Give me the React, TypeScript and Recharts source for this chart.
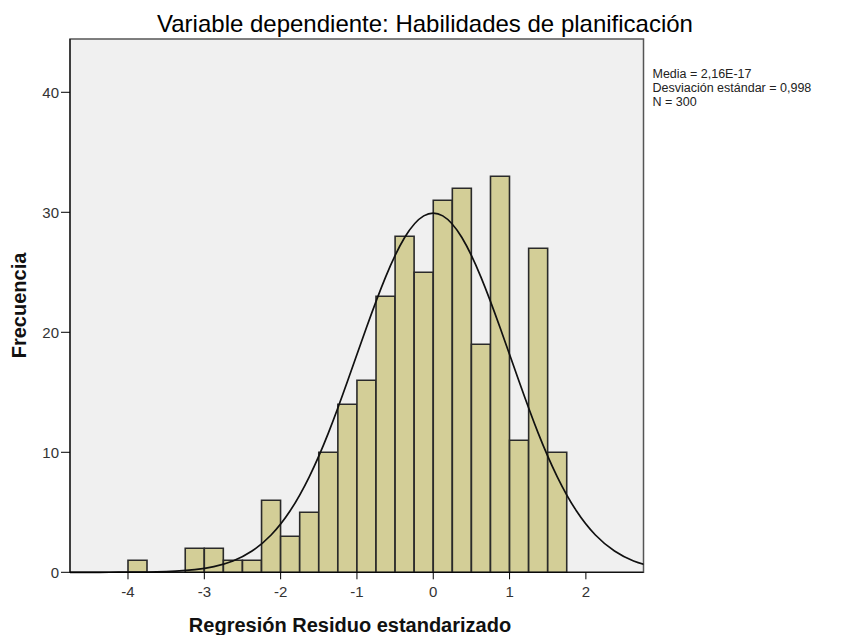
import {
  ComposedChart,
  Bar,
  Line,
  XAxis,
  YAxis,
  CartesianGrid,
  ReferenceArea,
} from "recharts";

// bin centres (bin width 0.25)
const binCenters = [
  -4.875, -4.625, -4.375, -4.125, -3.875, -3.625, -3.375, -3.125, -2.875, -2.625,
  -2.375, -2.125, -1.875, -1.625, -1.375, -1.125, -0.875, -0.625, -0.375, -0.125,
  0.125, 0.375, 0.625, 0.875, 1.125, 1.375, 1.625, 1.875, 2.125, 2.375, 2.625, 2.875,
];

const frequencies = [
  0, 0, 0, 0, 1, 0, 0, 2, 2, 1,
  1, 6, 3, 5, 10, 14, 16, 23, 28, 25,
  31, 32, 19, 33, 11, 27, 10, 0, 0, 0, 0, 0,
];

// height of the normal curve at each bin centre
const normalCurve = [
  0, 0, 0, 0.01, 0.02, 0.04, 0.1, 0.22, 0.47, 0.94,
  1.77, 3.11, 5.13, 7.96, 11.6, 15.9, 20.4, 24.6, 27.9, 29.7,
  29.7, 27.9, 24.6, 20.4, 15.9, 11.6, 7.96, 5.13, 3.11, 1.77, 0.94, 0.47,
];

const xTicks = [-4, -3, -2, -1, 0, 1, 2];
const yTicks = [0, 10, 20, 30, 40];
const xDomain: [number, number] = [-4.76, 2.755];
const yDomain: [number, number] = [0, 44.44];

const title = "Variable dependiente: Habilidades de planificación";
const xLabel = "Regresión Residuo estandarizado";
const yLabel = "Frecuencia";
const statsLines = ["Media = 2,16E-17", "Desviación estándar = 0,998", "N = 300"];

const FONT = "'Liberation Sans', Arial, sans-serif";

const data = binCenters.map((x, i) => ({
  x,
  freq: frequencies[i],
  curve: normalCurve[i],
}));

export default function App() {
  return (
    <div style={{ position: "absolute", left: 0, top: 0, width: 847, height: 635, background: "#fff" }}>
      <ComposedChart
        width={847}
        height={635}
        data={data}
        barCategoryGap={0}
        barGap={0}
        margin={{ top: 39, right: 203.5, bottom: 0, left: 0 }}
      >
        <CartesianGrid fill="#f0f0f0" horizontal={false} vertical={false} />
        <XAxis
          dataKey="x"
          type="number"
          domain={xDomain}
          allowDataOverflow
          ticks={xTicks}
          height={62.7}
          tickSize={7}
          tickMargin={7}
          stroke="#000"
          tick={{ fontSize: 15, fill: "#333", fontFamily: FONT }}
        />
        <YAxis
          type="number"
          domain={yDomain}
          ticks={yTicks}
          width={70}
          tickSize={9}
          tickMargin={2}
          stroke="#000"
          tick={{ fontSize: 15, fill: "#333", fontFamily: FONT }}
        />
        <Bar
          dataKey="freq"
          fill="#d3ce97"
          stroke="#2a2a2a"
          strokeWidth={1.6}
          isAnimationActive={false}
        />
        <Line
          dataKey="curve"
          type="natural"
          stroke="#111"
          strokeWidth={1.7}
          dot={false}
          activeDot={false}
          isAnimationActive={false}
        />
        <ReferenceArea
          x1={xDomain[0]}
          x2={xDomain[1]}
          y1={yDomain[0]}
          y2={yDomain[1]}
          fill="none"
          stroke="#555"
          strokeWidth={1.5}
        />
        <text
          x={425}
          y={31.7}
          textAnchor="middle"
          fontSize={24}
          fontFamily={FONT}
          fill="#000"
        >
          {title}
        </text>
        <text
          x={350}
          y={632}
          textAnchor="middle"
          fontSize={20}
          fontWeight="bold"
          fontFamily={FONT}
          fill="#111"
        >
          {xLabel}
        </text>
        <text
          x={26}
          y={305.5}
          textAnchor="middle"
          fontSize={20}
          fontWeight="bold"
          fontFamily={FONT}
          fill="#111"
          transform="rotate(-90, 26, 305.5)"
        >
          {yLabel}
        </text>
        {statsLines.map((line, i) => (
          <text
            key={line}
            x={652.5}
            y={78 + i * 14}
            fontSize={12.5}
            fontFamily={FONT}
            fill="#222"
          >
            {line}
          </text>
        ))}
      </ComposedChart>
    </div>
  );
}
